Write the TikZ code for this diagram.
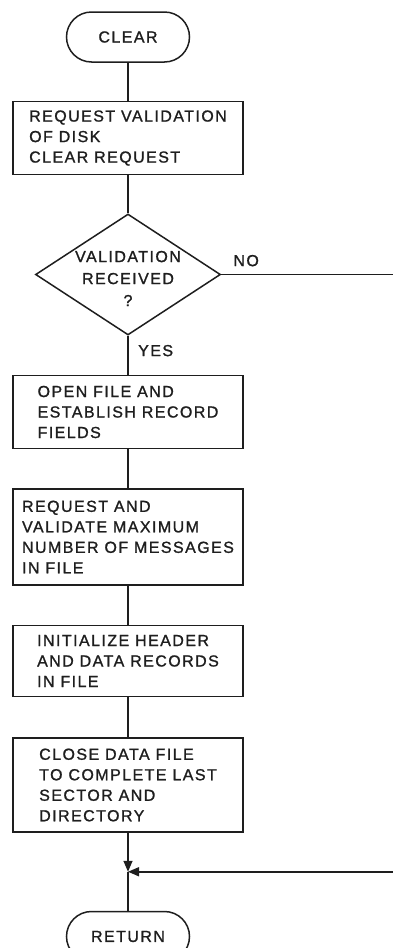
\documentclass[tikz,border=0pt]{standalone}
\usepackage{fontspec}
\newfontfamily\chartfont[LetterSpace=9,FakeBold=1.2]{Liberation Sans}
\usetikzlibrary{arrows.meta,positioning,shapes.geometric}
\definecolor{InkBlack}{RGB}{30,30,30}
\newcommand\chartsize{\fontsize{16}{20.5}\selectfont}
\tikzset{
  terminal/.style={draw=InkBlack,rounded corners=25pt,line width=1.5pt,
    minimum width=123pt,minimum height=50pt,text=InkBlack,
    font=\chartfont\chartsize},
  process/.style={draw=InkBlack,line width=1.5pt,minimum width=230pt,
    minimum height=73pt,align=left,text=InkBlack,font=\chartfont\chartsize},
  decision/.style={diamond,draw=InkBlack,line width=1.5pt,
    minimum width=185pt,minimum height=121pt,inner sep=0pt},
  flowlabel/.style={inner sep=0pt,text=InkBlack,font=\chartfont\chartsize},
  link/.style={draw=InkBlack,line width=1.5pt},
  arrow/.style={link,-{Triangle[length=11pt,width=9pt]}}
}

\begin{document}
\begin{tikzpicture}[x=1pt,y=1pt,node distance=39pt]
      \useasboundingbox (0,0) rectangle (393,-948);
      \clip (0,0) rectangle (393,-948);
      \node[terminal] (clear) at (128,-37) {CLEAR};
      \node[process,below=38pt of clear] (reqval) {REQUEST VALIDATION\\OF DISK\\CLEAR REQUEST};
      \node[decision,below=38pt of reqval] (valid) {};
      \node[flowlabel,align=center,font=\chartfont\fontsize{16}{22}\selectfont,yshift=-4pt] (validtxt) at (valid) {VALIDATION\\RECEIVED\\?};
      \node[process,below=of valid] (openfile) {OPEN FILE AND\\ESTABLISH RECORD\\FIELDS};
      \node[process,below=of openfile,minimum height=96pt] (reqmax) {REQUEST AND\\VALIDATE MAXIMUM\\NUMBER OF MESSAGES\\IN FILE};
      \node[process,below=of reqmax,minimum height=71pt] (init) {INITIALIZE HEADER\\AND DATA RECORDS\\IN FILE};
      \node[process,below=40pt of init,minimum height=94pt] (close) {CLOSE DATA FILE\\TO COMPLETE LAST\\SECTOR AND\\DIRECTORY};
      \node[terminal,below=78pt of close] (return) {RETURN};
      \coordinate (merge) at ([yshift=-39pt]close.south);
      \node[flowlabel,above right=8pt and 12pt of valid.east] (no) {NO};
      \node[flowlabel,below right=9pt and 10pt of valid.south] (yes) {YES};
      \draw[link] (clear) -- (reqval);
      \draw[link] (reqval) -- (valid);
      \draw[link] (valid) -- (openfile);
      \draw[link] (openfile) -- (reqmax);
      \draw[link] (reqmax) -- (init);
      \draw[link] (init) -- (close);
      \draw[arrow] (close) -- (merge);
      \draw[link] (merge) -- (return);
      \draw[arrow] (valid.east) -- ++(200,0) |- (merge);
    \end{tikzpicture}
\end{document}
